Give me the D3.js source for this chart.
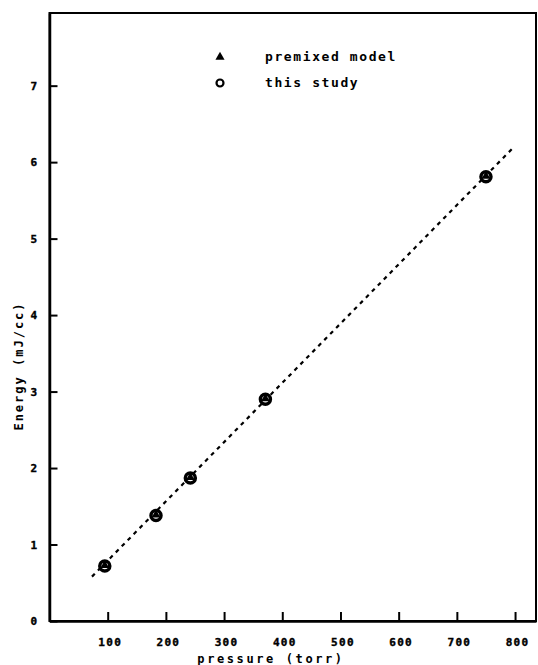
<!DOCTYPE html>
<html>
<head>
<meta charset="utf-8">
<script src="https://cdn.jsdelivr.net/npm/d3@7"></script>
<style>
  body { margin: 0; background: #fff; }
  text { font-family: "DejaVu Sans Mono", monospace; font-weight: bold; fill: #000; }
</style>
</head>
<body>
<div id="chart"></div>
<script>
// data
const pressure = [95, 183, 242, 371, 750];
const energy = [0.72, 1.38, 1.87, 2.90, 5.81];
const fitPressure = [73, 797];
const fitEnergy = [0.58, 6.19];
const xTicks = [100, 200, 300, 400, 500, 600, 700, 800];
const yTicks = [0, 1, 2, 3, 4, 5, 6, 7];
const legendLabels = ["premixed model", "this study"];

const width = 538, height = 665;
const margin = { top: 13, right: 2, bottom: 44, left: 49.5 };
const w = width - margin.left - margin.right;
const h = height - margin.top - margin.bottom;

const svg = d3.select("#chart").append("svg")
    .attr("width", width)
    .attr("height", height);

const g = svg.append("g")
    .attr("transform", `translate(${margin.left},${margin.top})`);

const x = d3.scaleLinear().domain([0, 836]).range([0, w]);
const y = d3.scaleLinear().domain([0, 7.95]).range([h, 0]);

// frame
g.append("rect")
    .attr("width", w).attr("height", h)
    .attr("fill", "none").attr("stroke", "#000").attr("stroke-width", 2);

// axes with inward ticks
const xAxis = g.append("g")
    .attr("transform", `translate(0,${h})`)
    .call(d3.axisBottom(x).tickValues(xTicks).tickSizeInner(-9).tickSizeOuter(0).tickPadding(17));
const yAxis = g.append("g")
    .call(d3.axisLeft(y).tickValues(yTicks).tickSizeInner(-8).tickSizeOuter(0).tickPadding(12));

[xAxis, yAxis].forEach(a => {
    a.select(".domain").attr("stroke-width", 2.5);
    a.selectAll(".tick line").attr("stroke-width", 2);
    a.selectAll(".tick text")
        .style("font-family", "DejaVu Sans Mono, monospace")
        .style("font-weight", "bold")
        .style("font-size", "11px")
        .style("letter-spacing", "1.3px")
        .attr("stroke", "#000").attr("stroke-width", 0.4);
});
xAxis.selectAll(".tick text").attr("dx", "2px");
yAxis.selectAll(".tick text").attr("text-anchor", "middle").attr("x", -15);

// axis titles
svg.append("text")
    .attr("x", 271).attr("y", 663)
    .attr("text-anchor", "middle")
    .style("font-size", "12px")
    .style("letter-spacing", "2.6px")
    .text("pressure (torr)");

svg.append("text")
    .attr("transform", "translate(23,366) rotate(-90)")
    .attr("text-anchor", "middle")
    .style("font-size", "12px")
    .style("letter-spacing", "2px")
    .text("Energy (mJ/cc)");

// dashed fit line
const line = d3.line()
    .x(d => x(d[0]))
    .y(d => y(d[1]));
g.append("path")
    .datum(d3.zip(fitPressure, fitEnergy))
    .attr("d", line)
    .attr("fill", "none")
    .attr("stroke", "#000")
    .attr("stroke-width", 2.2)
    .attr("stroke-dasharray", "4,4.5");

// markers: triangle inside open circle
const pts = d3.zip(pressure, energy);
g.selectAll(".circ").data(pts).enter().append("circle")
    .attr("cx", d => x(d[0])).attr("cy", d => y(d[1]))
    .attr("r", 5)
    .attr("fill", "#fff").attr("stroke", "#000").attr("stroke-width", 3.5);
const tri = d3.symbol().type(d3.symbolTriangle).size(34);
g.selectAll(".tri").data(pts).enter().append("path")
    .attr("d", tri)
    .attr("transform", d => `translate(${x(d[0])},${y(d[1]) - 0.5})`)
    .attr("fill", "#000");

// legend
const legend = svg.append("g");
legend.append("path")
    .attr("d", d3.symbol().type(d3.symbolTriangle).size(36))
    .attr("transform", "translate(220,57)")
    .attr("fill", "#000");
legend.append("circle")
    .attr("cx", 220).attr("cy", 83).attr("r", 3.5)
    .attr("fill", "none").attr("stroke", "#000").attr("stroke-width", 2.2);
legend.selectAll(".lab").data(legendLabels).enter().append("text")
    .attr("x", 265)
    .attr("y", (d, i) => 61 + i * 26)
    .style("font-size", "13px")
    .style("letter-spacing", "1.6px")
    .text(d => d);
</script>
</body>
</html>
